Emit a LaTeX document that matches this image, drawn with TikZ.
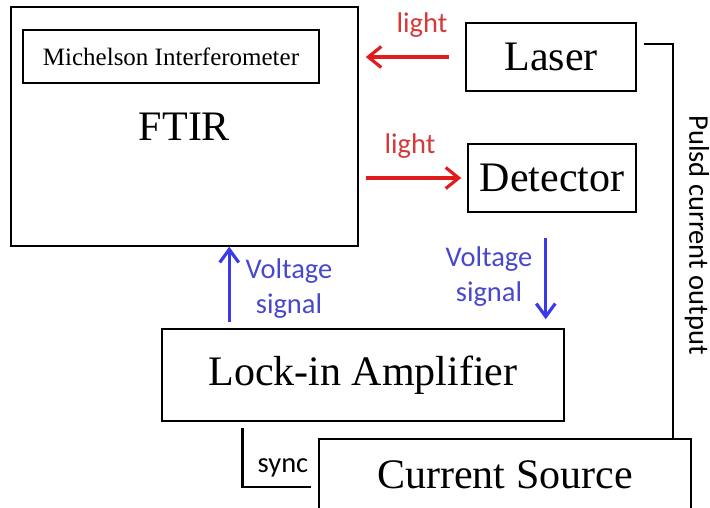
\documentclass[tikz,border=0pt]{standalone}
\usepackage{fontspec}
\setmainfont{Liberation Serif}
\newfontfamily\calfont{Carlito}
\usetikzlibrary{arrows.meta, calc}
\definecolor{lightred}{RGB}{226,28,28}
\definecolor{lighttxt}{RGB}{212,58,58}
\definecolor{sigblue}{RGB}{58,58,232}
\definecolor{sigtxt}{RGB}{72,72,205}
\tikzset{
  unit/.style={draw, line width=1.5pt, inner sep=0pt,
               font=\fontsize{42}{48}\selectfont},
  wire/.style={line width=2.5pt},
  lightarrow/.style={lightred, line width=3.2pt,
                     -{Straight Barb[length=13pt,width=21pt]}},
  sigarrow/.style={sigblue, line width=3.2pt,
                   -{Straight Barb[length=13pt,width=19pt]}},
  lbl/.style={font=\calfont\fontsize{28.5}{35}\selectfont, inner sep=0pt,
              align=center},
}

\begin{document}
\begin{tikzpicture}[x=1pt,y=-1pt]
\clip (0,0) rectangle (710,507);

% ── Instruments ───────────────────────────────────────────────────────────────
\node[unit, minimum width=347pt, minimum height=239pt] (ftir)
      at (184.5,126.5) {FTIR};
\node[unit, minimum width=296pt, minimum height=53pt,
      font=\fontsize{25}{30}\selectfont] (mich) at (171,56.5)
      {Michelson Interferometer};
\node[unit, minimum width=170pt, minimum height=68pt] (laser)
      at (551,57) {Laser};
\node[unit, minimum width=168pt, minimum height=68pt] (detector)
      at (552,178) {Detector};
\node[unit, minimum width=402pt, minimum height=92pt] (lockin)
      at (363,375) {Lock-in Amplifier};
\node[unit, minimum width=372pt, minimum height=72pt] (csource)
      at (505,475) {Current Source};

% ── Light paths ───────────────────────────────────────────────────────────────
\draw[lightarrow, shorten <=16pt, shorten >=7pt] (laser.west) -- (laser.west -| ftir.east);
\node[lbl, lighttxt] (light1) at (422,25) {light};
\draw[lightarrow, shorten >=6pt] ([xshift=7pt]ftir.east |- detector.west) -- (detector.west);
\node[lbl, lighttxt] (light2) at (410,146) {light};

% ── Voltage signals ───────────────────────────────────────────────────────────
\draw[sigarrow] ([xshift=68pt,yshift=6pt]lockin.north west)
      -- ([xshift=68pt]lockin.north west |- ftir.south);
\node[lbl, sigtxt] (volt1) at (289,289) {Voltage\\signal};
\draw[sigarrow] ([xshift=-19pt,yshift=-25pt]lockin.north east |- detector.south)
      -- ([xshift=-19pt,yshift=9pt]lockin.north east);
\node[lbl, sigtxt] (volt2) at (489,277) {Voltage\\signal};

% ── Drive and sync wires ──────────────────────────────────────────────────────
\draw[wire] ([xshift=7pt,yshift=13pt]laser.east)
      -| ([xshift=-19pt]csource.north east);
\node[lbl, rotate=-90] (pulse) at (697,235) {Pulsd current output};
\draw[wire] ([xshift=81pt,yshift=-6pt]lockin.south west)
      |- ([xshift=-7pt,yshift=-12pt]csource.west);
\node[lbl] (sync) at (283,468) {sync};

\end{tikzpicture}
\end{document}
